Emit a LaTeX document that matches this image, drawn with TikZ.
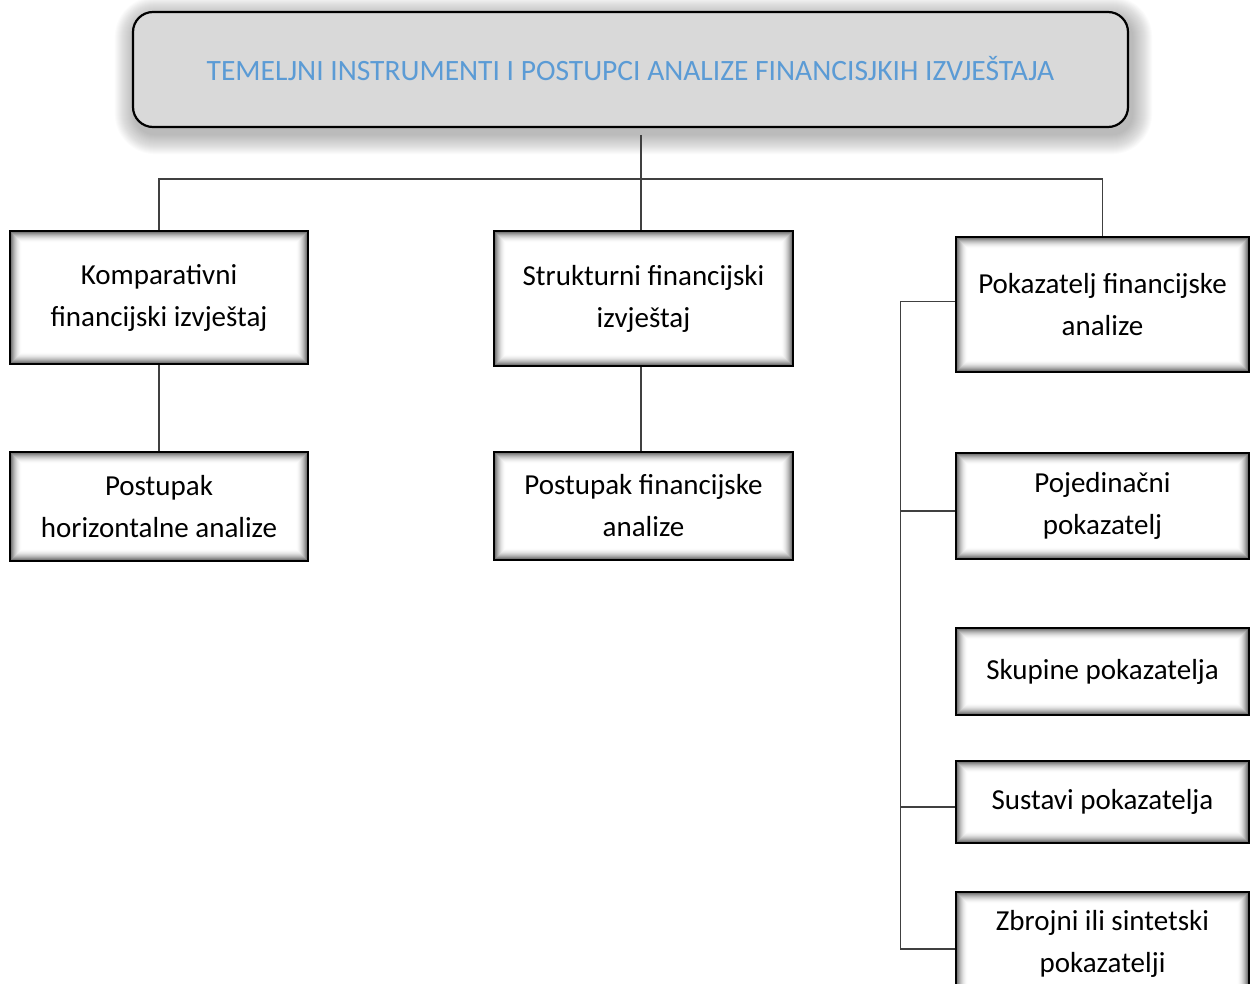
\documentclass[tikz,border=0pt]{standalone}
\usepackage{fontspec}
\setmainfont{Carlito}
\usetikzlibrary{backgrounds,calc}
\definecolor{topfill}{HTML}{D9D9D9}
\definecolor{titleblue}{HTML}{5B9BD5}
\definecolor{connc}{HTML}{404040}
\tikzset{
  ibox/.style={draw=black, line width=2.6pt, fill=white, align=center, inner sep=0pt,
    font=\fontsize{29}{42}\selectfont, text=black,
    path picture={
      \foreach \i in {0,...,11}{
        \pgfmathsetmacro\dd{\i+0.6}
        \pgfmathsetmacro\shd{62*(1-\i/12)^2}
        \draw[line width=1.25pt, draw=black!\shd]
          ([shift={(\dd,-\dd)}]path picture bounding box.north west) rectangle
          ([shift={(-\dd,\dd)}]path picture bounding box.south east);
      }
    }},
  topbox/.style={draw=black, line width=2.2pt, fill=topfill, rounded corners=20pt,
    minimum width=995pt, minimum height=115pt, inner sep=0pt,
    font=\fontsize{29.5}{42}\selectfont, text=titleblue},
  conn/.style={draw=connc, line width=1.3pt},
}
\begin{document}
\begin{tikzpicture}[x=1pt,y=1pt]
\useasboundingbox (0,0) rectangle (1250,-984);

\node[topbox] (top) at (630.5,-69.5) {\raisebox{3pt}{TEMELJNI INSTRUMENTI I POSTUPCI ANALIZE FINANCISJKIH IZVJEŠTAJA}};

\begin{scope}[on background layer]
  \foreach \i in {1,...,20}{
    \pgfmathsetmacro\rr{20+\i}
    \fill[black, opacity=0.015, rounded corners=\rr pt]
      ([shift={(-\i+3,\i-6)}]top.north west) rectangle ([shift={(\i+3,-\i-6)}]top.south east);
  }
\end{scope}

\node[ibox, minimum width=298pt, minimum height=133pt] (b1) at (159,-297.5) {Komparativni\\financijski izvještaj};
\node[ibox, minimum width=299pt, minimum height=135pt] (b2) at (643.5,-298.5) {Strukturni financijski\\izvještaj};
\node[ibox, minimum width=293pt, minimum height=135pt] (b3) at (1102.5,-304.5) {Pokazatelj financijske\\analize};
\node[ibox, minimum width=298pt, minimum height=109pt] (b4) at (159,-506.5) {Postupak\\horizontalne analize};
\node[ibox, minimum width=299pt, minimum height=108pt] (b5) at (643.5,-506) {Postupak financijske\\analize};
\node[ibox, minimum width=293pt, minimum height=106pt] (b6) at (1102.5,-506) {Pojedinačni\\pokazatelj};
\node[ibox, minimum width=293pt, minimum height=87pt] (b7) at (1102.5,-671.5) {Skupine pokazatelja};
\node[ibox, minimum width=293pt, minimum height=82pt] (b8) at (1102.5,-802) {Sustavi pokazatelja};
\node[ibox, minimum width=293pt, minimum height=104pt] (b9) at (1102.5,-944) {Zbrojni ili sintetski\\pokazatelji};

\coordinate (t0) at (641,-135);
\coordinate (hub) at (641,-179);
\draw[conn] (t0) -- (t0 |- b2.north);
\draw[conn] (b1.north) |- (hub) -| (b3.north);
\draw[conn] (b1.south) -- (b4.north);
\draw[conn] (t0 |- b2.south) -- (t0 |- b5.north);
\draw[conn] ([yshift=3pt]b3.west) -| ([xshift=-54pt,yshift=-5pt]b9.west) -- ([yshift=-5pt]b9.west);
\draw[conn] ([yshift=-5pt]b6.west) -- ++(-54,0);
\draw[conn] ([yshift=-5pt]b8.west) -- ++(-54,0);
\end{tikzpicture}
\end{document}
